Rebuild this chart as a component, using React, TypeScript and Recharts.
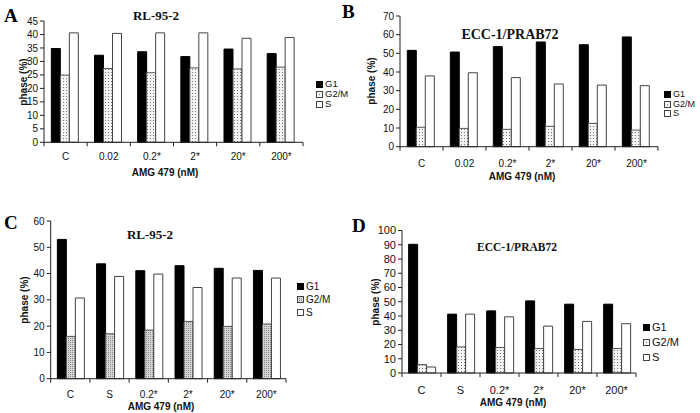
import React from 'react';
import { BarChart, Bar, XAxis, YAxis, Legend } from 'recharts';

const categoriesAB = ['C', '0.02', '0.2*', '2*', '20*', '200*'];
const categoriesCD = ['C', 'S', '0.2*', '2*', '20*', '200*'];

const aG1 = [34.8, 32.3, 33.6, 31.8, 34.6, 32.9];
const aG2M = [24.9, 27.4, 25.8, 27.6, 27.2, 27.9];
const aS = [40.6, 40.4, 40.6, 40.6, 38.6, 38.9];

const bG1 = [51.6, 50.7, 53.6, 56.1, 54.6, 58.8];
const bG2M = [10.4, 9.8, 9.3, 10.9, 12.5, 8.9];
const bS = [37.9, 39.6, 37.0, 33.6, 33.0, 32.7];

const cG1 = [53.0, 43.7, 41.1, 43.0, 42.0, 41.2];
const cG2M = [16.1, 17.1, 18.5, 21.8, 19.9, 20.8];
const cS = [30.7, 38.9, 39.8, 34.7, 38.3, 38.3];

const dG1 = [90.3, 41.3, 43.6, 50.6, 48.3, 48.3];
const dG2M = [5.9, 18.3, 17.9, 17.2, 16.5, 17.2];
const dS = [4.2, 41.3, 39.4, 32.9, 36.2, 34.6];

const ticksA = [0, 5, 10, 15, 20, 25, 30, 35, 40, 45];
const ticksB = [0, 10, 20, 30, 40, 50, 60, 70];
const ticksC = [0, 10, 20, 30, 40, 50, 60];
const ticksD = [0, 10, 20, 30, 40, 50, 60, 70, 80, 90, 100];

const seriesNames = ['G1', 'G2/M', 'S'];
const xTitle = 'AMG 479 (nM)';
const yTitle = 'phase (%)';

const build = (cats: string[], g1: number[], g2: number[], s: number[]) =>
  cats.map((c, i) => ({ cat: c, G1: g1[i], G2M: g2[i], S: s[i] }));

const SANS = '"Liberation Sans", Arial, sans-serif';
const SERIF = '"Liberation Serif", "Times New Roman", serif';

type PanelProps = {
  id: string;
  letter: string;
  letterPos: [number, number];
  title: string;
  titlePos: [number, number];
  titleSize: number;
  box: [number, number, number, number];
  plot: [number, number, number, number];
  data: any[];
  max: number;
  ticks: number[];
  legendPos: [number, number];
  legendGap: number;
  legendFont: number;
  tickFont: number;
  xTickDy: number;
  xTitlePos: [number, number];
  yTitleX: number;
  dense: boolean;
};

const XTick = (props: any) => {
  const { x, y, payload, index, dy, font } = props;
  const off = payload.offset || 0;
  return (
    <g>
      <line x1={x - off} x2={x - off} y1={y} y2={y + 4} stroke="#222" />
      {index === 5 && <line x1={x + off} x2={x + off} y1={y} y2={y + 4} stroke="#222" />}
      <text x={x} y={y + dy} textAnchor="middle" fontSize={font} fontFamily={SANS} fill="#111">
        {payload.value}
      </text>
    </g>
  );
};

const Panel = (p: PanelProps) => {
  const [bl, bt, bw, bh] = p.box;
  const [pl, pt, pr, pb] = p.plot;
  const YW = 24;
  const XH = 20;
  const margin = {
    left: pl - bl - YW,
    top: pt - bt,
    right: bl + bw - pr,
    bottom: bt + bh - pb - XH,
  };
  const patId = 'pat' + p.id;
  const legendContent = () => (
    <div style={{ fontFamily: SANS, fontSize: p.legendFont, color: '#111', lineHeight: p.legendGap + 'px' }}>
      {seriesNames.map((n, i) => (
        <div key={n} style={{ display: 'flex', alignItems: 'center', whiteSpace: 'nowrap', height: p.legendGap }}>
          <svg width={7} height={7} style={{ marginRight: 2 }}>
            <rect
              x={0.5}
              y={0.5}
              width={6}
              height={6}
              fill={i === 0 ? '#000' : i === 1 ? `url(#${patId})` : '#fff'}
              stroke={i === 0 ? '#000' : '#444'}
            />
          </svg>
          <span>{n}</span>
        </div>
      ))}
    </div>
  );
  return (
    <div style={{ position: 'absolute', left: bl, top: bt, width: bw, height: bh }}>
      <BarChart
        width={bw}
        height={bh}
        data={p.data}
        margin={margin}
        barGap={0}
        barCategoryGap="17%"
      >
        <defs>
          {p.dense ? (
            <pattern id={patId} width={2} height={2} patternUnits="userSpaceOnUse">
              <rect width={2} height={2} fill="#d6d6d6" />
              <rect width={1} height={1} fill="#888" />
            </pattern>
          ) : (
            <pattern id={patId} width={3} height={3} patternUnits="userSpaceOnUse">
              <rect width={3} height={3} fill="#f4f4f4" />
              <rect width={1} height={1} fill="#777" />
            </pattern>
          )}
        </defs>
        <XAxis
          dataKey="cat"
          height={XH}
          tickSize={0}
          tickMargin={0}
          axisLine={{ stroke: '#222' }}
          tickLine={false}
          interval={0}
          tick={<XTick dy={p.xTickDy} font={p.tickFont} />}
        />
        <YAxis
          width={YW}
          domain={[0, p.max]}
          ticks={p.ticks}
          interval={0}
          tickSize={4}
          tickMargin={2}
          axisLine={{ stroke: '#222' }}
          tickLine={{ stroke: '#222' }}
          tick={{ fontSize: p.tickFont, fontFamily: SANS, fill: '#111' }}
        />
        <Legend
          layout="vertical"
          align="center"
          verticalAlign="middle"
          content={legendContent}
          wrapperStyle={{ position: 'absolute', left: p.legendPos[0] - bl, top: p.legendPos[1] - bt, width: 'auto' }}
        />
        <Bar dataKey="G1" name="G1" fill="#000" stroke="#000" isAnimationActive={false} />
        <Bar dataKey="G2M" name="G2/M" fill={`url(#${patId})`} stroke="#555" isAnimationActive={false} />
        <Bar dataKey="S" name="S" fill="#fff" stroke="#444" isAnimationActive={false} />
      </BarChart>
      <div
        style={{
          position: 'absolute',
          left: p.letterPos[0] - bl,
          top: p.letterPos[1] - bt,
          fontFamily: SERIF,
          fontWeight: 'bold',
          fontSize: 19,
          lineHeight: '19px',
        }}
      >
        {p.letter}
      </div>
      <div
        style={{
          position: 'absolute',
          left: p.titlePos[0] - bl - 100,
          width: 200,
          textAlign: 'center',
          top: p.titlePos[1] - bt - p.titleSize / 2,
          fontFamily: SERIF,
          fontWeight: 'bold',
          fontSize: p.titleSize,
          lineHeight: p.titleSize + 'px',
          color: '#111',
        }}
      >
        {p.title}
      </div>
      <div
        style={{
          position: 'absolute',
          left: p.xTitlePos[0] - bl - 100,
          width: 200,
          textAlign: 'center',
          top: p.xTitlePos[1] - bt - 6,
          fontFamily: SANS,
          fontWeight: 'bold',
          fontSize: 10,
          lineHeight: '12px',
          color: '#111',
        }}
      >
        {xTitle}
      </div>
      <div
        style={{
          position: 'absolute',
          left: p.yTitleX - bl - 50,
          width: 100,
          top: (pt + pb) / 2 - bt - 6,
          textAlign: 'center',
          transform: 'rotate(-90deg)',
          fontFamily: SANS,
          fontWeight: 'bold',
          fontSize: 10,
          lineHeight: '12px',
          color: '#111',
        }}
      >
        {yTitle}
      </div>
    </div>
  );
};

export default function App() {
  return (
    <div style={{ position: 'absolute', left: 0, top: 0, width: 700, height: 413, background: '#fff', overflow: 'hidden' }}>
      <Panel
        id="A"
        letter="A"
        letterPos={[4, 6]}
        title="RL-95-2"
        titlePos={[156, 15]}
        titleSize={13}
        box={[0, 0, 350, 200]}
        plot={[44, 21, 303, 142.3]}
        data={build(categoriesAB, aG1, aG2M, aS)}
        max={45}
        ticks={ticksA}
        legendPos={[316, 79]}
        legendGap={10}
        legendFont={9.5}
        tickFont={10}
        xTickDy={18}
        xTitlePos={[165, 173]}
        yTitleX={24}
        dense={false}
      />
      <Panel
        id="B"
        letter="B"
        letterPos={[342, 2]}
        title="ECC-1/PRAB72"
        titlePos={[510, 35]}
        titleSize={14}
        box={[350, 0, 350, 200]}
        plot={[400, 16, 658, 146.7]}
        data={build(categoriesAB, bG1, bG2M, bS)}
        max={70}
        ticks={ticksB}
        legendPos={[664, 90]}
        legendGap={9.5}
        legendFont={9}
        tickFont={10}
        xTickDy={20}
        xTitlePos={[522, 177]}
        yTitleX={372}
        dense={false}
      />
      <Panel
        id="C"
        letter="C"
        letterPos={[4, 213]}
        title="RL-95-2"
        titlePos={[150, 234]}
        titleSize={13}
        box={[0, 200, 350, 213]}
        plot={[50.7, 221, 286, 378.7]}
        data={build(categoriesCD, cG1, cG2M, cS)}
        max={60}
        ticks={ticksC}
        legendPos={[297, 280]}
        legendGap={13}
        legendFont={10}
        tickFont={10}
        xTickDy={19}
        xTitlePos={[161, 407]}
        yTitleX={25}
        dense={true}
      />
      <Panel
        id="D"
        letter="D"
        letterPos={[352, 216]}
        title="ECC-1/PRAB72"
        titlePos={[517, 248]}
        titleSize={11.5}
        box={[350, 200, 350, 213]}
        plot={[402, 230.5, 636, 373]}
        data={build(categoriesCD, dG1, dG2M, dS)}
        max={100}
        ticks={ticksD}
        legendPos={[643, 320]}
        legendGap={15}
        legendFont={11}
        tickFont={11}
        xTickDy={21}
        xTitlePos={[513, 403]}
        yTitleX={376}
        dense={false}
      />
    </div>
  );
}
